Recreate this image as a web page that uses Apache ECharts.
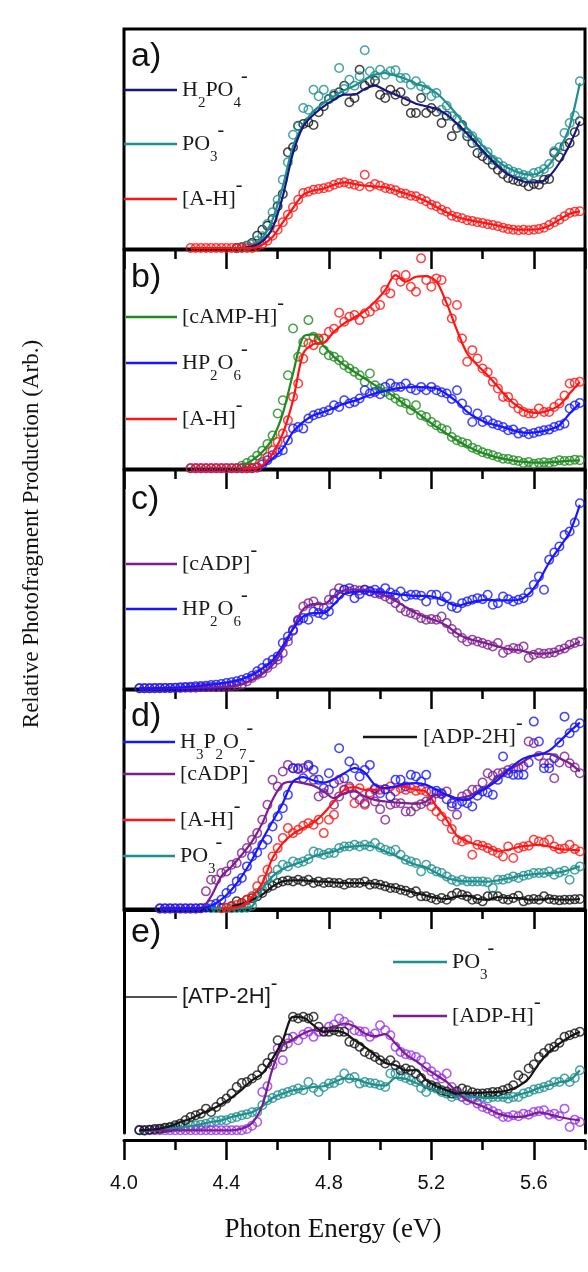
<!DOCTYPE html>
<html><head><meta charset="utf-8">
<script src="https://cdn.jsdelivr.net/npm/echarts@6/dist/echarts.min.js"></script>
<style>html,body{margin:0;padding:0;background:#fff}#c{width:588px;height:1272px}</style>
</head><body><div id="c"></div>
<script>
// ---- energy grids (eV) ----
const E_PTS = [4.06,4.08,4.10,4.12,4.14,4.16,4.18,4.20,4.22,4.24,4.26,4.28,4.30,4.32,4.34,4.36,4.38,4.40,4.42,4.44,4.46,4.48,4.50,4.52,4.54,4.56,4.58,4.60,4.62,4.64,4.66,4.68,4.70,4.72,4.74,4.76,4.78,4.80,4.82,4.84,4.86,4.88,4.90,4.92,4.94,4.96,4.98,5.00,5.02,5.04,5.06,5.08,5.10,5.12,5.14,5.16,5.18,5.20,5.22,5.24,5.26,5.28,5.30,5.32,5.34,5.36,5.38,5.40,5.42,5.44,5.46,5.48,5.50,5.52,5.54,5.56,5.58,5.60,5.62,5.64,5.66,5.68,5.70,5.72,5.74,5.76,5.78];
const E_FIT = [4.06,4.10,4.14,4.18,4.22,4.26,4.30,4.34,4.38,4.42,4.46,4.50,4.54,4.58,4.62,4.66,4.70,4.74,4.78,4.82,4.86,4.90,4.94,4.98,5.02,5.06,5.10,5.14,5.18,5.22,5.26,5.30,5.34,5.38,5.42,5.46,5.50,5.54,5.58,5.62,5.66,5.70,5.74,5.78];

// ---- panel a ----
const A_H2PO4_FIT = [3,8,23,63,158,288,368,403,428,448,463,463,480,490,476,463,450,436,428,420,403,376,346,313,278,248,223,208,200,200,218,258,313,383];
const A_H2PO4_PTS = [3,5,10,18,40,58,70,90,128,165,290,305,370,375,380,372,410,428,450,460,470,490,440,453,538,490,503,505,463,453,478,463,470,443,408,408,453,408,423,412,378,400,338,363,372,338,318,288,278,268,253,238,225,213,208,203,200,188,195,193,208,210,288,275,308,318,350,383];
const A_PO3_FIT = [3,10,33,88,188,308,373,413,438,458,476,490,508,523,528,520,510,496,486,468,438,403,363,328,293,263,243,230,223,228,253,298,368,498];
const A_PO3_PTS = [3,5,10,14,25,38,75,110,148,208,260,343,368,423,418,478,458,478,450,465,543,480,508,490,518,596,533,520,538,523,533,536,513,513,493,503,488,478,458,468,418,430,398,390,368,348,338,320,298,290,268,260,248,240,232,228,222,218,228,232,240,255,293,305,348,378,400,503];
const A_AH_FIT = [3,3,3,3,3,3,3,13,36,80,123,163,176,181,193,200,195,190,188,185,176,166,156,143,126,110,96,88,82,76,70,63,58,58,60,70,88,106,113];
const A_AH_PTS = [3,3,3,3,3,3,3,3,3,3,3,3,3,8,15,25,40,58,80,103,125,148,168,172,178,180,182,186,193,198,200,196,193,188,223,187,195,190,183,180,176,168,166,160,158,150,143,133,128,118,112,100,96,92,86,84,80,78,74,72,68,64,60,58,56,58,56,58,60,64,72,80,88,98,108,112,113];

// ---- panel b ----
const B_CAMP_FIT = [11,26,51,91,166,286,396,403,368,336,311,291,271,251,234,214,191,171,148,126,106,86,68,54,43,34,28,23,20,19,20,22,25,26];
const B_CAMP_PTS = [10,18,26,40,55,75,100,166,206,281,421,336,380,446,396,386,356,341,336,326,311,301,291,281,261,286,251,241,231,221,211,201,196,176,191,161,156,141,131,121,116,96,86,80,76,64,58,50,46,41,36,31,30,26,24,18,21,16,18,20,18,22,26,24,25,28,26];
const B_HP2O6_FIT = [2,2,8,31,61,111,141,161,171,183,196,204,216,226,234,241,244,246,244,241,224,201,171,151,138,130,121,111,108,111,118,131,166,198];
const B_HP2O6_PTS = [2,2,2,2,2,2,2,2,2,2,2,2,2,4,14,26,41,50,56,86,121,126,121,151,161,166,171,176,191,186,206,196,201,211,236,226,231,224,246,256,246,246,256,241,236,246,236,246,236,230,226,210,236,196,176,141,166,141,146,136,131,126,116,118,106,111,104,108,112,116,118,126,130,136,181,190,198];
const B_AH_FIT = [2,2,11,46,106,206,346,374,378,411,436,454,474,501,536,581,561,576,578,561,496,416,346,311,281,246,211,186,171,168,176,191,226,261];
const B_AH_PTS = [2,2,2,2,2,2,2,2,2,2,2,2,2,6,21,36,56,81,106,146,216,256,330,376,371,391,391,411,420,468,441,456,461,446,466,471,486,491,536,526,581,561,581,546,531,631,566,546,571,566,501,451,491,391,321,356,331,301,290,261,241,216,216,196,181,171,166,166,181,171,171,186,196,220,256,258,261];

// ---- panel c ----
const C_CADP_FIT = [2,2,2,3,3,4,5,5,6,8,14,27,45,72,118,183,240,255,255,278,296,299,298,291,280,265,246,228,215,205,190,167,152,144,136,128,120,117,110,106,108,115,127,143];
const C_CADP_PTS = [2,2,2,3,2,3,3,3,3,4,4,4,5,5,6,5,6,6,8,10,13,23,33,43,48,63,75,88,108,143,178,208,248,258,263,248,243,268,288,303,298,293,298,296,298,294,288,285,278,270,258,243,233,228,223,213,208,210,208,218,198,180,168,153,143,148,143,138,133,128,138,108,118,123,120,128,93,103,108,106,108,110,118,122,133,138,143];
const C_HP2O6_FIT = [2,2,3,4,5,7,10,13,17,22,30,42,62,85,130,180,218,228,228,255,285,292,293,292,290,286,282,280,280,275,262,250,258,265,268,266,266,268,285,325,380,425,470,553];
const C_HP2O6_PTS = [2,2,2,2,3,3,3,4,5,6,7,8,9,10,12,13,15,18,20,23,28,33,40,53,63,78,88,98,138,158,175,205,213,208,233,228,223,233,268,283,298,303,273,285,298,293,298,290,303,290,283,293,278,283,283,280,263,283,283,263,278,248,243,258,263,268,273,270,283,253,258,278,270,263,268,273,290,313,338,298,388,410,428,463,473,500,558];

// ---- panel d ----
const D_H3P2O7_FIT = [2,2,2,2,3,10,28,58,98,148,208,263,318,383,396,386,380,390,408,423,410,373,363,368,376,378,373,358,343,330,328,348,366,388,416,443,458,463,476,503,533,560];
const D_H3P2O7_PTS = [2,2,2,2,2,2,2,2,2,4,13,16,28,48,60,83,93,128,158,170,193,208,248,278,303,343,423,423,393,433,418,388,363,408,378,483,393,443,423,398,418,433,363,348,360,338,388,388,368,403,398,383,403,353,355,348,330,318,313,323,318,308,340,353,350,343,388,458,408,403,403,403,440,563,503,423,423,453,500,578,528,545,558];
const D_CADP_FIT = [1,1,1,1,2,38,98,128,163,203,258,328,376,383,378,370,353,333,348,353,338,328,323,320,318,316,323,343,343,333,338,353,370,398,418,433,453,466,466,453,438,413];
const D_CADP_PTS = [1,1,1,1,1,1,1,1,2,53,88,88,108,113,133,138,168,183,208,228,268,313,388,368,413,433,423,420,423,428,388,338,348,358,313,338,358,368,345,328,318,343,323,300,268,313,318,318,293,293,308,315,323,328,348,345,353,308,283,338,345,358,358,380,408,400,408,410,418,423,425,428,503,498,460,438,438,393,440,458,438,425,408];
const D_AH_FIT = [2,4,10,36,78,153,198,226,243,260,288,323,358,366,358,358,363,368,366,358,352,308,268,220,203,193,186,173,178,186,190,193,188,180,178,176];
const D_AH_PTS = [2,4,8,12,18,28,38,68,88,118,158,183,213,243,228,238,250,258,253,268,228,268,283,388,358,363,318,363,313,350,358,358,360,368,353,363,358,363,355,358,353,308,293,278,263,240,208,203,208,163,193,190,183,175,168,158,188,153,183,188,190,208,203,200,208,188,180,182,193,180,173];
const D_PO3_FIT = [2,2,2,3,8,60,98,120,133,143,158,166,173,186,188,191,186,173,160,146,133,125,108,93,86,83,83,82,86,92,98,103,106,108,110,118,128];
const D_PO3_PTS = [2,2,2,2,2,3,3,4,10,48,58,88,98,118,133,128,143,138,143,150,173,168,163,168,168,183,188,188,193,188,193,188,198,185,178,173,178,163,148,143,138,113,133,120,113,108,98,88,83,88,83,83,83,83,80,63,88,88,92,98,93,100,103,108,108,108,113,103,110,115,88,118,128];
const D_ADP2H_FIT = [8,16,28,43,68,83,86,86,83,82,80,78,78,78,76,70,63,56,48,40,33,30,38,40,30,28,36,33,33,28,28,32,28,28,30];
const D_ADP2H_PTS = [8,23,18,28,32,38,48,63,70,78,83,86,83,88,83,88,78,83,78,80,78,78,73,78,78,78,83,73,76,73,68,63,63,58,55,48,53,38,38,33,28,33,28,40,48,43,38,28,30,23,38,40,38,30,28,33,40,23,28,30,28,38,30,28,26,28,28,29,30];

// ---- panel e ----
const E_ATP_FIT = [8,10,13,20,33,43,58,70,86,106,130,158,178,223,278,348,346,323,303,306,300,278,258,233,210,203,188,188,158,140,128,118,120,120,122,123,128,140,163,208,243,268,288,303];
const E_ATP_PTS = [8,8,10,12,13,16,18,23,28,38,48,53,58,73,63,78,93,103,118,138,150,153,163,173,193,210,228,278,258,283,348,343,348,343,348,318,303,303,308,303,303,273,268,258,243,235,228,218,208,218,203,188,193,188,178,165,148,143,138,128,124,118,125,133,128,122,118,118,120,123,123,128,133,143,173,163,193,205,228,240,253,258,270,288,293,298,303];
const E_PO3_FIT = [4,6,9,13,17,21,26,33,38,48,55,62,80,105,118,128,132,138,140,152,163,162,152,145,142,165,162,150,138,128,118,110,110,108,105,106,105,115,123,135,143,152,158,188];
const E_PO3_PTS = [8,7,10,10,12,14,16,18,19,20,22,23,25,28,32,36,38,38,44,48,53,56,62,63,83,98,105,113,118,123,128,133,128,153,135,123,138,148,150,158,178,163,168,148,153,150,148,143,138,178,178,170,165,158,153,135,123,138,133,123,118,108,113,108,113,108,108,108,103,108,108,108,103,108,108,118,123,130,133,138,143,153,153,163,153,165,188];
const E_ADPH_FIT = [6,8,8,8,8,8,8,8,8,8,13,30,83,193,263,280,298,308,303,316,328,320,298,290,296,268,236,216,193,173,153,123,98,86,73,58,50,48,53,62,56,48,42,38];
const E_ADPH_PTS = [10,8,8,8,8,8,8,8,8,8,8,8,8,8,8,8,8,8,8,8,8,12,22,33,123,140,203,253,218,268,288,278,295,303,288,303,305,318,325,343,333,323,308,305,303,288,298,323,308,293,258,243,236,233,228,218,198,185,173,163,178,138,120,108,98,103,88,78,73,65,58,48,48,53,50,58,55,63,65,68,55,58,50,73,18,40,33];

// ---- colours ----
const C_NAVY='#17177f', C_TEAL='#1d8f8f', C_RED='#ff1414', C_BLACK='#151515', C_GREEN='#1f8a1f', C_BLUE='#1717ff', C_PURPLE='#7e1d8e', C_VIOLET='#9a2ff0';

function pair(E, start, vals){
  const i0 = E.findIndex(e => Math.abs(e - start) < 1e-6);
  return vals.map((v, i) => [E[i0 + i], v]);
}
function pts(g, color, start, vals){
  return {type:'scatter', xAxisIndex:2*g, yAxisIndex:g, data:pair(E_PTS,start,vals), symbol:'circle', symbolSize:8.5,
    itemStyle:{color:'rgba(0,0,0,0)', borderColor:color, borderWidth:1.5}, z:2, silent:true, animation:false};
}
function fit(g, color, start, vals, w){
  return {type:'line', xAxisIndex:2*g, yAxisIndex:g, data:pair(E_FIT,start,vals), showSymbol:false, symbol:'none', smooth:0.3,
    lineStyle:{color:color, width:w||2.2}, z:3, silent:true, animation:false};
}

const PANELS = [{top:29,h:220,max:660},{top:250,h:219,max:656},{top:470,h:219,max:658},{top:690,h:219,max:658},{top:910,h:223,max:668}];
const grids=[], xAxes=[], yAxes=[];
PANELS.forEach((p,g)=>{
  const last = g===4;
  grids.push({left:124, width:461, top:p.top, height:p.h, show:!last, borderColor:'#000', borderWidth:3, backgroundColor:'rgba(0,0,0,0)', containLabel:false, outerBoundsMode:'none'});
  xAxes.push({gridIndex:g, type:'value', position:'bottom', min:4.0, max:5.8, interval:0.4, offset: last?7:0,
    axisLine:{show:last, onZero:false, lineStyle:{color:'#000', width:3}},
    axisTick:{show:true, inside:false, length:20, lineStyle:{color:'#000', width:2.5}},
    axisLabel:{show:last, margin:33, showMaxLabel:false, color:'#111', fontFamily:'Liberation Sans', fontSize:20, formatter:v=>v.toFixed(1)},
    splitLine:{show:false}});
  xAxes.push({gridIndex:g, type:'value', position:'bottom', min:4.0, max:5.8, interval:0.2, offset: last?7:0,
    axisLine:{show:false, onZero:false}, axisTick:{show:true, inside:false, length:10, lineStyle:{color:'#000', width:2.5}},
    axisLabel:{show:false}, splitLine:{show:false}});
  yAxes.push({gridIndex:g, type:'value', min:0, max:p.max, position:'left',
    axisLine:{show:last, onZero:false, lineStyle:{color:'#000', width:3}}, axisTick:{show:false}, axisLabel:{show:false}, splitLine:{show:false}});
});
// frame of last panel (top and right edges)
xAxes.push({gridIndex:4, type:'value', position:'top', min:4.0, max:5.8, axisLine:{show:true, onZero:false, lineStyle:{color:'#000', width:3}}, axisTick:{show:false}, axisLabel:{show:false}, splitLine:{show:false}});
yAxes.push({gridIndex:4, type:'value', position:'right', min:0, max:668, axisLine:{show:true, onZero:false, lineStyle:{color:'#000', width:3}}, axisTick:{show:false}, axisLabel:{show:false}, splitLine:{show:false}});

const series = [
  pts(0,C_BLACK,4.44,A_H2PO4_PTS), pts(0,C_TEAL,4.44,A_PO3_PTS), pts(0,C_RED,4.26,A_AH_PTS),
  fit(0,C_TEAL,4.46,A_PO3_FIT), fit(0,C_NAVY,4.46,A_H2PO4_FIT), fit(0,C_RED,4.26,A_AH_FIT),
  pts(1,C_GREEN,4.46,B_CAMP_PTS), pts(1,C_BLUE,4.26,B_HP2O6_PTS), pts(1,C_RED,4.26,B_AH_PTS),
  fit(1,C_GREEN,4.46,B_CAMP_FIT), fit(1,C_BLUE,4.46,B_HP2O6_FIT), fit(1,C_RED,4.46,B_AH_FIT),
  pts(2,C_PURPLE,4.06,C_CADP_PTS), pts(2,C_BLUE,4.06,C_HP2O6_PTS),
  fit(2,C_PURPLE,4.06,C_CADP_FIT), fit(2,C_BLUE,4.06,C_HP2O6_FIT),
  pts(3,C_BLACK,4.42,D_ADP2H_PTS), pts(3,C_TEAL,4.34,D_PO3_PTS), pts(3,C_RED,4.38,D_AH_PTS), pts(3,C_PURPLE,4.14,D_CADP_PTS), pts(3,C_BLUE,4.14,D_H3P2O7_PTS),
  fit(3,C_BLACK,4.42,D_ADP2H_FIT), fit(3,C_TEAL,4.34,D_PO3_FIT), fit(3,C_RED,4.38,D_AH_FIT), fit(3,C_PURPLE,4.14,D_CADP_FIT), fit(3,C_BLUE,4.14,D_H3P2O7_FIT),
  pts(4,C_TEAL,4.06,E_PO3_PTS), pts(4,C_VIOLET,4.06,E_ADPH_PTS), pts(4,C_BLACK,4.06,E_ATP_PTS),
  fit(4,C_TEAL,4.06,E_PO3_FIT), fit(4,C_PURPLE,4.06,E_ADPH_FIT), fit(4,C_BLACK,4.06,E_ATP_FIT)
];

// ---- legends / labels as graphics ----
function richName(s){
  let out='', buf='';
  for(let i=0;i<s.length;i++){
    const c=s[i];
    if(c==='_'||c==='^'){ if(buf){out+='{n|'+buf+'}';buf='';} out+='{'+(c==='_'?'s':'p')+'|'+s[i+1]+'}'; i++; }
    else buf+=c;
  }
  if(buf) out+='{n|'+buf+'}';
  return out;
}
function rich(fam, size){
  return {
    n:{fontFamily:fam, fontSize:size, lineHeight:30, fill:'#1a1a1a'},
    s:{fontFamily:fam, fontSize:15, lineHeight:30, height:4, verticalAlign:'bottom', fill:'#1a1a1a'},
    p:{fontFamily:fam, fontSize:20, lineHeight:30, height:4, verticalAlign:'top', fill:'#1a1a1a'}
  };
}
const LEGENDS = [
  [124,177,90,C_NAVY,2.5,'H_2PO_4^-',182,'serif'],
  [124,177,144,C_TEAL,2.5,'PO_3^-',182,'serif'],
  [124,177,199,C_RED,2.5,'[A-H]^-',182,'serif'],
  [126,177,317,C_GREEN,2.5,'[cAMP-H]^-',182,'serif'],
  [126,177,363,C_BLUE,2.5,'HP_2O_6^-',182,'serif'],
  [126,177,419,C_RED,2.5,'[A-H]^-',182,'serif'],
  [126,177,564,C_PURPLE,2.5,'[cADP]^-',182,'serif'],
  [126,177,609,C_BLUE,2.5,'HP_2O_6^-',182,'serif'],
  [123,175,742,C_BLUE,2.5,'H_3P_2O_7^-',180,'serif'],
  [123,175,774,C_PURPLE,2.5,'[cADP]^-',180,'serif'],
  [123,175,820,C_RED,2.5,'[A-H]^-',180,'serif'],
  [123,175,856,C_TEAL,2.5,'PO_3^-',180,'serif'],
  [363,417,737,C_BLACK,2.5,'[ADP-2H]^-',423,'serif'],
  [126,177,997,C_BLACK,1.6,'[ATP-2H]^-',182,'sans'],
  [393,447,962,C_TEAL,2.5,'PO_3^-',452,'serif'],
  [393,447,1016,C_PURPLE,2.5,'[ADP-H]^-',452,'serif']
];
const graphics = [];
LEGENDS.forEach(L=>{
  graphics.push({type:'line', shape:{x1:L[0], y1:L[2], x2:L[1], y2:L[2]}, style:{stroke:L[3], lineWidth:L[4]}, silent:true, z:10});
  const fam = L[7]==='sans' ? 'Liberation Sans' : 'Liberation Serif';
  graphics.push({type:'text', x:L[6], y:L[2], silent:true, z:10,
    style:{text:richName(L[5]), rich:rich(fam, 22), align:'left', verticalAlign:'middle', fill:'#1a1a1a'}});
});
const PANEL_LABELS = [['a)',57],['b)',278],['c)',500],['d)',717],['e)',933]];
PANEL_LABELS.forEach(p=>{
  graphics.push({type:'text', x:131, y:p[1], silent:true, z:10, style:{text:p[0], fontFamily:'Liberation Sans', fontSize:34, fill:'#111', align:'left', verticalAlign:'middle'}});
});
graphics.push({type:'text', x:333, y:1230, silent:true, style:{text:'Photon Energy (eV)', fontFamily:'Liberation Serif', fontSize:27, fill:'#111', align:'center', verticalAlign:'middle'}});
graphics.push({type:'text', x:32, y:534, rotation:Math.PI/2, silent:true, style:{text:'Relative Photofragment Production (Arb.)', fontFamily:'Liberation Serif', fontSize:23, fill:'#111', align:'center', verticalAlign:'middle'}});

const chart = echarts.init(document.getElementById('c'), null, {renderer:'canvas'});
chart.setOption({
  animation:false,
  backgroundColor:'#ffffff',
  grid:grids, xAxis:xAxes, yAxis:yAxes, series:series, graphic:graphics
});
</script></body></html>
